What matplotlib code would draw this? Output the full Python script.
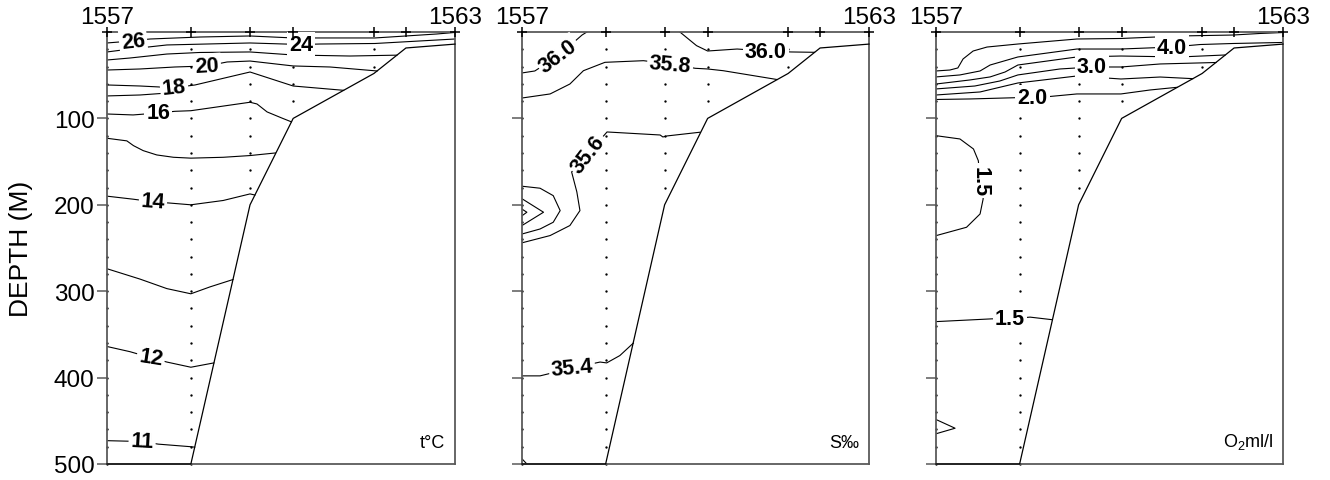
import matplotlib.pyplot as plt

plt.rcParams['font.family'] = ['Liberation Sans', 'DejaVu Sans']
plt.rcParams['mathtext.fontset'] = 'custom'
plt.rcParams['mathtext.rm'] = 'Liberation Sans'

# stations along the section and their position (km from 1557)
stations = [1557, 1558, 1559, 1560, 1561, 1562, 1563]
station_km = [0, 24.1, 41.1, 53.5, 76.7, 85.9, 100]

# bottom profile
bottom_km = [0, 24.1, 41.1, 53.5, 76.7, 85.9, 100]
bottom_m = [500, 500, 200, 100, 48, 18.5, 14]

# standard bottle depths and deepest bottle per station
standard_m = [20, 40, 60, 80, 100, 120, 140, 160, 180, 200, 220, 240, 260,
              280, 300, 320, 340, 360, 380, 400, 420, 440, 460, 480, 500]
deepest_m = [500, 500, 180, 80, 40, 0, 0]

# isolines: (level, km, depth)
temp_lines = [
    (26, [0, 3.7, 12.4, 26.7, 41.1, 53.5, 77.0, 94.8, 100],
         [12.7, 11.5, 8.1, 5.8, 4.6, 6.9, 6.9, 2.3, 0.5]),
    (24, [0, 6.6, 17.2, 41.1, 55.8, 61.2, 77.0, 100],
         [23.1, 19.7, 15.0, 12.7, 14.5, 13.9, 13.3, 8.1]),
    (22, [0, 6.6, 17.2, 26.7, 41.1, 53.5, 69.8, 83.3],
         [32.4, 30.1, 25.5, 23.7, 23.1, 26.6, 27.8, 26.8]),
    (20, [0, 9.5, 19.5, 28.7, 34.5, 41.1, 53.5, 64.1, 77.6],
         [44, 42.8, 40.5, 39.3, 34.7, 33.6, 39.3, 40.5, 45.1]),
    (18, [0, 9.5, 19.3, 25.3, 41.1, 53.5, 68.0],
         [61.3, 62.5, 64.5, 61.3, 46.3, 62.5, 67.5]),
    (17, [0, 9.5, 17.5],
         [74, 72.9, 70.6]),
    (16, [0, 7.5, 14.7, 19.5, 24.1, 41.1, 43.1, 46.0, 50.5, 53.0],
         [94.9, 96, 93.7, 91.8, 91.1, 81.3, 83.3, 92.5, 100, 104]),
    (15, [0, 5.7, 7.6, 10.4, 14.3, 19.1, 24.1, 33.4, 41.1, 48.4],
         [123, 126, 131.5, 137.3, 142.3, 145, 146, 145, 143, 140]),
    (14, [0, 7.5, 13.2, 18.1, 24.1, 33.4, 41.1, 42.5],
         [190, 193.5, 196.5, 198, 200, 195, 187.4, 188.7]),
    (13, [0, 9.5, 17.2, 24.1, 29.6, 36.2],
         [274, 286, 297, 303, 295, 286.5]),
    (12, [0, 6.6, 12.6, 17.2, 24.1, 30.7],
         [364, 370, 377, 382, 388, 383]),
    (11, [0, 10.1, 14.7, 24.1, 25.2],
         [473, 474, 477, 480, 480.5]),
]
temp_labels = [(26, 7.5, 10.5, 6), (24, 55.8, 15.0, 0), (20, 28.7, 39.3, 3),
               (18, 19.3, 64.5, 6), (16, 14.7, 93.7, 0), (14, 13.2, 196.5, -4),
               (12, 12.6, 377, -9), (11, 10.1, 474, -3)]

sal_lines = [
    (36.0, [0, 3.7, 10.5, 17.3, 18.7],
           [47.4, 45.1, 27.4, 3.5, 0]),
    (36.0, [45.5, 50.3, 53.5, 62.0, 70.3, 77.5, 84.3],
           [0, 15.8, 22, 19.7, 22, 23.1, 23.5]),
    (35.8, [0, 8.1, 13.8, 17.7, 23.9, 35.0, 42.7, 49.9, 53.5, 58.0, 73.5],
           [76.4, 71.7, 60.2, 44.8, 35.1, 33.2, 37, 42, 42.8, 44.8, 55]),
    (35.6, [51.3, 41.8, 40.6, 39.8, 24.5, 19.0, 14.3, 15.8, 16.7, 13.8, 8.1, 0],
           [116, 120.3, 121.5, 119.2, 115.7, 141, 162, 185, 206.7, 224, 235.6, 244]),
    (35.7, [0, 5.2, 9.0, 11.0, 9.0, 5.2, 0],
           [178.5, 180.8, 189.4, 206.7, 220.2, 228, 233.8]),
    (35.8, [0, 6.2, 0],
           [193, 208.6, 224]),
    (35.9, [0, 1.4, 0],
           [205, 208.6, 212.7]),
    (35.4, [0, 5.2, 14.4, 22.5, 24.4, 28.2, 32.1],
           [398, 398, 389, 382, 383, 374.5, 360]),
    (35.2, [0, 1.4],
           [494, 500]),
]
sal_labels = [(36.0, 10.5, 27.4, 37), (36.0, 70.3, 22, 0), (35.8, 42.7, 37, -5),
              (35.6, 19.0, 141, 52), (35.4, 14.4, 389, 5)]

oxy_lines = [
    (4.5, [0, 4.0, 6.3, 7.8, 10.7, 14.7, 23.6, 40.6, 53.3, 70.3, 85.6, 93.4, 100],
          [45.1, 44, 41.6, 31.2, 22, 17.4, 13.9, 8.1, 7.5, 4.6, 3.5, 1.7, 0.6]),
    (4.0, [0, 6.9, 12.7, 15.6, 23.6, 40.6, 53.3, 68.0, 76.1, 85.6, 100],
          [52, 49.7, 45.1, 38.2, 28.9, 19.7, 19.7, 17.4, 14.5, 13.3, 12.1]),
    (3.5, [0, 9.8, 15.6, 19.9, 23.6, 40.6, 53.3, 70.3, 83.3],
          [60.2, 55.5, 52, 46.3, 38.2, 28.9, 27.8, 28.9, 26.6]),
    (3.0, [0, 11.2, 18.4, 23.6, 35.7, 44.9, 53.3, 64.6, 80.7],
          [65.9, 62.5, 56.7, 49.7, 42.8, 40.5, 40.5, 37, 35.3]),
    (2.5, [0, 12.7, 23.6, 40.6, 53.3, 64.6, 74.0],
          [72.9, 69.4, 59, 50.9, 54.4, 52.1, 54]),
    (2.0, [0, 9.8, 27.8, 32.9, 40.6, 53.3, 61.7, 69.5],
          [78.1, 77.5, 75.5, 74.6, 71.7, 71.7, 67.1, 64]),
    (1.5, [0, 6.9, 10.8, 12.2, 12.7, 13.6, 12.7, 8.8, 0],
          [120, 123.8, 135.4, 149, 172, 193, 210.6, 226, 235.7]),
    (1.5, [0, 16.1, 21.3, 27.1, 33.5],
          [335.2, 332, 332, 330, 333]),
    (1.5, [0, 5.5, 0],
          [448.5, 458.6, 465]),
]
oxy_labels = [(4.0, 68.0, 17.4, 0), (3.0, 44.9, 40.5, 0), (2.0, 27.8, 75.5, 0),
              (1.5, 12.7, 172, 270), (1.5, 21.3, 332, 0)]

panels = [
    (temp_lines, temp_labels, '{:g}', 't°C'),
    (sal_lines, sal_labels, '{:.1f}', 'S‰'),
    (oxy_lines, oxy_labels, '{:.1f}', 'O$_2$ml/l'),
]

W, H = 1330, 481
fig = plt.figure(figsize=(W / 100, H / 100), dpi=100)
lefts = [107, 522, 936]
widths = [348, 347, 347]
spine_col = '#5a5a5a'

for i, (lines, labels, fmt, name) in enumerate(panels):
    ax = fig.add_axes([lefts[i] / W, 16 / H, widths[i] / W, 432 / H])
    ax.set_xlim(0, 100)
    ax.set_ylim(500, 0)

    for lvl, km, dep in lines:
        ax.plot(km, dep, color='black', lw=0.8, zorder=2)

    for lvl, x, d, rot in labels:
        ax.text(x, d, fmt.format(lvl), rotation=rot, ha='center', va='center',
                rotation_mode='anchor', fontsize=15.5, fontweight='bold',
                bbox=dict(boxstyle='square,pad=0.1', fc='white', ec='none'),
                zorder=4)

    # sea floor
    ax.plot(bottom_km, bottom_m, color='black', lw=0.9, zorder=3, clip_on=False)

    # bottles
    for x, dmax in zip(station_km, deepest_m):
        ds = [d for d in standard_m if d <= dmax]
        ax.plot([x] * len(ds), ds, ls='none', marker='o', ms=1.7,
                mfc='black', mec='none', zorder=2, clip_on=False)

    # station marks on the surface
    ax.plot(station_km, [0] * len(station_km), ls='none', marker='+', ms=7,
            mew=1.1, color='black', zorder=5, clip_on=False)
    for x, st in [(station_km[0], stations[0]), (station_km[-1], stations[-1])]:
        ax.annotate(str(st), xy=(x, 0), xytext=(0, 3), textcoords='offset points',
                    ha='center', va='bottom', fontsize=17.5, annotation_clip=False)

    ax.annotate(name, xy=(1, 0), xycoords='axes fraction', xytext=(-7, 9),
                textcoords='offset points', ha='right', va='bottom', fontsize=13)

    for s in ax.spines.values():
        s.set_color(spine_col)
        s.set_linewidth(1.3)
    ax.set_xticks([])
    ax.set_yticks([100, 200, 300, 400, 500])
    ax.tick_params(axis='y', direction='out', length=7, width=1.1,
                   color=spine_col, labelsize=17.5, pad=2,
                   labelleft=(i == 0))

fig.text(21 / W, 1 - 249 / H, 'DEPTH (M)', rotation=90, ha='center',
         va='center', fontsize=19)

fig.savefig('out.png', dpi=100)
